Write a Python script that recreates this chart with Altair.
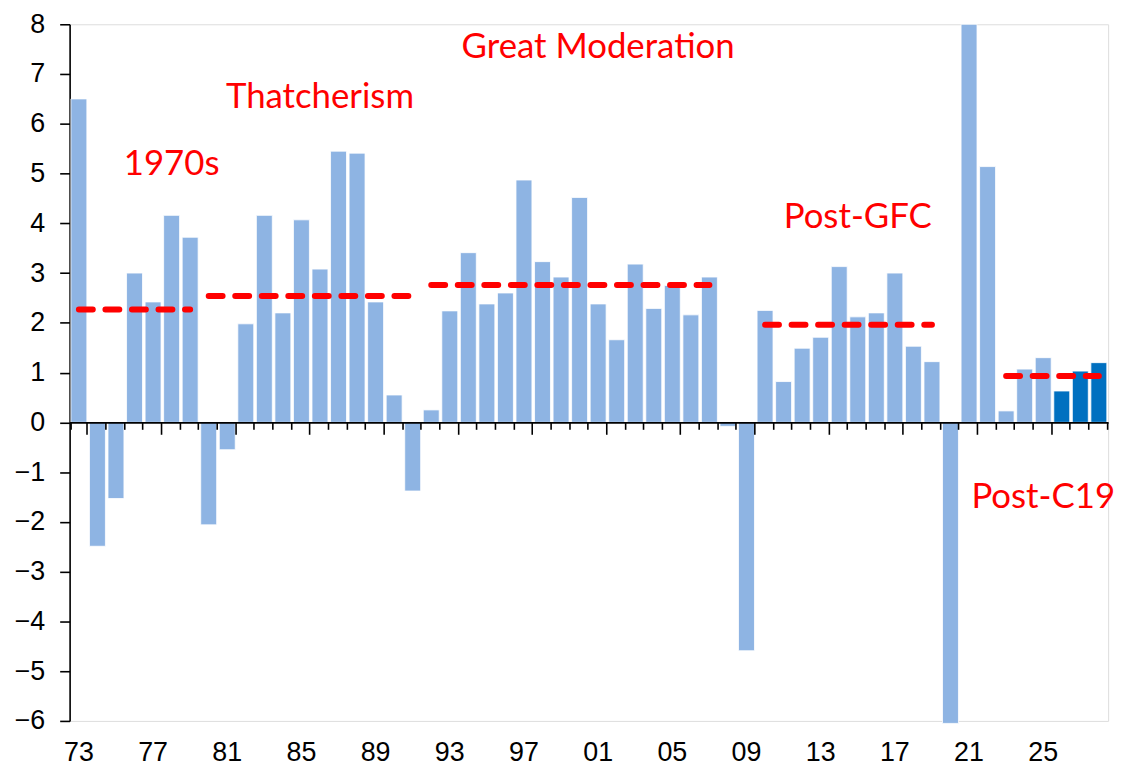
import altair as alt
import pandas as pd

# ---- data -------------------------------------------------------------
years = list(range(1973, 2029))
growth = [6.5, -2.49, -1.53, 3.0, 2.42, 4.16, 3.72, -2.06, -0.55, 1.98,
          4.16, 2.2, 4.07, 3.08, 5.45, 5.41, 2.42, 0.55, -1.38, 0.25,
          2.24, 3.41, 2.38, 2.6, 4.87, 3.23, 2.92, 4.52, 2.38, 1.66,
          3.18, 2.29, 2.75, 2.16, 2.92, -0.08, -4.59, 2.25, 0.82, 1.49,
          1.71, 3.13, 2.12, 2.2, 3.0, 1.53, 1.22, -6.05, 8.0, 5.14,
          0.23, 1.07, 1.3, 0.63, 1.03, 1.2]
first_forecast_year = 2026

period_names = ["1970s", "Thatcherism", "Great Moderation", "Post-GFC", "Post-C19"]
period_start = [1973, 1980, 1992, 2010, 2023]
period_end = [1979, 1991, 2007, 2019, 2028]
period_avg = [2.27, 2.54, 2.76, 1.96, 0.93]

label_year = [1978, 1986, 2001, 2015, 2025]
label_value = [5.19, 6.53, 7.55, 4.13, -1.5]

y_ticks = list(range(-6, 9))

# ---- tables -------------------------------------------------------------
bars = pd.DataFrame({
    "year": years,
    "growth": growth,
    "kind": ["Forecast" if y >= first_forecast_year else "Outturn" for y in years],
})
lines = pd.DataFrame(
    [{"period": n, "year": s, "avg": a} for n, s, a in zip(period_names, period_start, period_avg)]
    + [{"period": n, "year": e, "avg": a} for n, e, a in zip(period_names, period_end, period_avg)]
)
labels = pd.DataFrame({"text": period_names, "year": label_year, "value": label_value})

W, H = 1045, 701
Y_MIN, Y_MAX = -6, 8
zero_offset = -H * (0 - Y_MIN) / (Y_MAX - Y_MIN)

x_scale = alt.Scale(domain=years, paddingInner=0.14, paddingOuter=0.07)
y_scale = alt.Scale(domain=[Y_MIN, Y_MAX], nice=False)

AXIS_FONT = "Liberation Sans"

# zero-line axis: domain + ticks, no labels
x_zero_axis = alt.Axis(
    orient="bottom", offset=zero_offset, labels=False, title=None,
    domainColor="#000000", domainWidth=1.6, tickColor="#000000", tickWidth=1.6,
    tickBand="extent",
    tickSize={"condition": {"test": "(datum.value - 1973) % 4 == 0", "value": 12}, "value": 7},
    zindex=2, grid=False,
)
# label axis at the bottom
x_label_axis = alt.Axis(
    orient="bottom", domain=False, ticks=False, title=None, grid=False,
    labelExpr="(datum.value - 1973) % 4 == 0 ? slice(toString(datum.value), 2) : ''",
    labelFont=AXIS_FONT, labelFontSize=27, labelColor="#000000", labelPadding=19,
    labelAngle=0, labelOverlap=False,
)
y_axis = alt.Axis(
    values=y_ticks, title=None, grid=False, domainColor="#000000", domainWidth=1.6,
    tickColor="#000000", tickWidth=1.6, tickSize=10, labelPadding=15,
    labelFont=AXIS_FONT, labelFontSize=27, labelColor="#000000",
)

bar_layer = alt.Chart(bars).mark_bar(stroke="white", strokeWidth=0.8).encode(
    x=alt.X("year:O", scale=x_scale, axis=x_zero_axis),
    y=alt.Y("growth:Q", scale=y_scale, axis=y_axis),
    color=alt.Color("kind:N", scale=alt.Scale(domain=["Outturn", "Forecast"],
                                              range=["#8EB4E3", "#0070C0"]), legend=None),
)

line_layer = alt.Chart(lines).mark_line(
    color="#FF0000", strokeWidth=6, strokeDash=[14, 12.7], strokeCap="round"
).encode(
    x=alt.X("year:O", scale=x_scale, axis=x_label_axis),
    y=alt.Y("avg:Q", scale=y_scale),
    detail="period:N",
)

text_layer = alt.Chart(labels).mark_text(
    font="Lato", fontSize=35, color="#FF0000", align="center", baseline="middle"
).encode(
    x=alt.X("year:O", scale=x_scale, axis=None),
    y=alt.Y("value:Q", scale=y_scale),
    text="text:N",
)

chart = (
    alt.layer(bar_layer, line_layer, text_layer)
    .resolve_axis(x="independent")
    .properties(
        width=W, height=H,
        autosize=alt.AutoSizeParams(type="none"),
        padding={"left": 62, "top": 14, "right": 20, "bottom": 44},
    )
    .configure_view(stroke=None)
    .configure(background="white")
)

chart.save("out.html", embed_options={"renderer": "svg", "actions": False})
